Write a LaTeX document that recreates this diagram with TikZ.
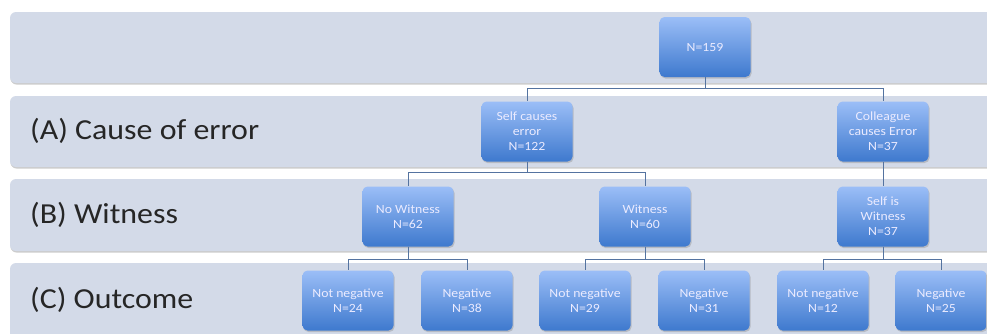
\documentclass[tikz,border=0pt]{standalone}
\usepackage{fontspec}
\setmainfont{Carlito}[FakeStretch=1.1]
\usepackage{tikz}
\usetikzlibrary{shadows}
\newcommand{\LevelFont}{\fontsize{29}{31}\selectfont}
\newcommand{\BoxFont}{\fontsize{12.5}{15}\selectfont}
\definecolor{bandfill}{HTML}{D3DAE8}
\definecolor{boxtop}{HTML}{9BBEF7}
\definecolor{boxbottom}{HTML}{3E79CE}
\definecolor{linkcol}{HTML}{5473A0}

\tikzset{
    band/.style = {fill = bandfill, rounded corners = 6pt,
        drop shadow = {shadow xshift = 0.5pt, shadow yshift = -1.5pt, opacity = 0.4}},
    level/.style = {font = \LevelFont, anchor = base west, inner sep = 0pt, text = black!85},
    group/.style = {rectangle, rounded corners = 5pt, minimum width = 91pt, minimum height = 60pt,
        top color = boxtop, bottom color = boxbottom, text = white!92!blue, font = \BoxFont,
        align = center, inner sep = 1pt,
        drop shadow = {shadow xshift = 1pt, shadow yshift = -1.5pt, opacity = 0.35}},
    link/.style = {draw = linkcol, line width = 1pt}
}

\begin{document}
\begin{tikzpicture}[x = 1pt, y = -1pt]
    \clip (0, 0) rectangle (987, 333);
    \fill[white] (0, 0) rectangle (987, 333);

    % draw the four bands
    \fill[band] (10, 12) rectangle (1000, 83);
    \fill[band] (10, 96) rectangle (1000, 167);
    \fill[band] (10, 179) rectangle (1000, 251);
    \fill[band] (10, 263) rectangle (1000, 350);

    % draw level names
    \node[level] (lvlA) at (30, 139) {(A) Cause of error};
    \node[level] (lvlB) at (30, 223) {(B) Witness};
    \node[level] (lvlC) at (30, 308) {(C) Outcome};


    % draw root and first split
    \node[group] (total) at (705, 47) {N=159};

    \node[group] (self) at (527, 131.5) {Self causes\\error\\N=122};
    \node[group] (colleague) at (883, 131.5) {Colleague\\causes Error\\N=37};


    % draw witness level
    \node[group] (nowitness) at (408, 216.5) {No Witness\\N=62};
    \node[group] (witness) at (645, 216.5) {Witness\\N=60};
    \node[group] (selfwitness) at (883, 216.5) {Self is\\Witness\\N=37};


    % draw outcome level
    \node[group] (notnegA) at (348, 300.5) {Not negative\\N=24};
    \node[group] (negA) at (467, 300.5) {Negative\\N=38};
    \node[group] (notnegB) at (585, 300.5) {Not negative\\N=29};
    \node[group] (negB) at (704, 300.5) {Negative\\N=31};
    \node[group] (notnegC) at (823, 300.5) {Not negative\\N=12};
    \node[group] (negC) at (941, 300.5) {Negative\\N=25};


    % draw connectors
    \draw[link] (total.south) -- ++(0, 11) -| (self.north);
    \draw[link] (total.south) -- ++(0, 11) -| (colleague.north);

    \draw[link] (self.south) -- ++(0, 11) -| (nowitness.north);
    \draw[link] (self.south) -- ++(0, 11) -| (witness.north);
    \draw[link] (colleague.south) -- (selfwitness.north);

    \draw[link] (nowitness.south) -- ++(0, 13) -| (notnegA.north);
    \draw[link] (nowitness.south) -- ++(0, 13) -| (negA.north);
    \draw[link] (witness.south) -- ++(0, 13) -| (notnegB.north);
    \draw[link] (witness.south) -- ++(0, 13) -| (negB.north);
    \draw[link] (selfwitness.south) -- ++(0, 13) -| (notnegC.north);
    \draw[link] (selfwitness.south) -- ++(0, 13) -| (negC.north);
\end{tikzpicture}
\end{document}
